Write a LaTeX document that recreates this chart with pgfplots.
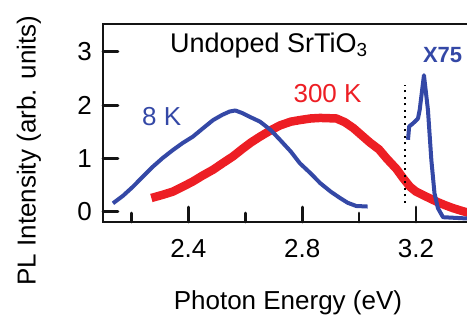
\documentclass[border=0pt]{standalone}
\usepackage{pgfplots}
\pgfplotsset{compat=1.18}
\usepackage{fontspec}
\setmainfont{Liberation Sans}
\definecolor{myblue}{RGB}{52,72,166}
\definecolor{myred}{RGB}{237,30,36}
\definecolor{myblack}{RGB}{20,20,20}
\pgfplotsset{fr/.style={myblack, line width=2.8pt, line join=round, line cap=round, forget plot}}
\begin{document}
\begin{tikzpicture}
\begin{axis}[
 scale only axis,
 width=369.9pt, height=198pt,
 xmin=2.1, xmax=3.4, ymin=-0.19, ymax=3.52,
 clip=false,
 axis line style={myblack, line width=2.5pt},
 tick align=inside, tick pos=left,
 xtick={2.4,2.8,3.2}, minor xtick={2.2,2.6,3.0},
 ytick={0,1,2,3},
 xticklabels={2.4,2.8,3.2},
 yticklabels={0,1,2,3},
 major tick length=15pt, minor tick length=9pt,
 tick style={myblack, line width=2.5pt},
 tick label style={font=\fontsize{26}{30}\selectfont},
 xticklabel style={anchor=base, inner sep=0pt, yshift=-35pt},
 yticklabel style={anchor=east, inner sep=0pt, xshift=-11pt},
 label style={font=\fontsize{26}{30}\selectfont},
 xlabel={Photon Energy (eV)},
 xlabel style={at={(axis description cs:0.5,-0.444)}, anchor=base, inner sep=0pt},
 ylabel={PL Intensity (arb. units)},
 ylabel style={at={(axis description cs:-0.2,0.36)}, anchor=center, inner sep=0pt},
]
% 300 K (red)
\addplot[myred, line width=8.5pt, line join=round] coordinates {
(2.27,0.26) (2.31,0.32) (2.346,0.38) (2.38,0.47) (2.416,0.57) (2.45,0.68)
(2.487,0.79) (2.52,0.91) (2.557,1.04) (2.59,1.18) (2.62,1.30) (2.652,1.41)
(2.69,1.53) (2.722,1.62) (2.76,1.69) (2.792,1.72) (2.83,1.75) (2.863,1.76)
(2.92,1.75) (2.95,1.68) (2.98,1.57) (3.01,1.43) (3.038,1.30) (3.07,1.17)
(3.097,1.00) (3.132,0.80) (3.155,0.63) (3.179,0.47) (3.20,0.38) (3.226,0.31)
(3.25,0.25) (3.273,0.19) (3.30,0.13) (3.33,0.07) (3.36,0.02) (3.40,-0.04)
};
% 8 K (blue)
\addplot[myblue, line width=4pt, line join=round] coordinates {
(2.135,0.16) (2.17,0.30) (2.205,0.47) (2.24,0.66) (2.276,0.85) (2.31,1.01)
(2.346,1.16) (2.38,1.29) (2.416,1.41) (2.45,1.56) (2.487,1.72) (2.52,1.82)
(2.545,1.88) (2.565,1.90) (2.59,1.85) (2.62,1.77) (2.652,1.69) (2.69,1.53)
(2.722,1.35) (2.76,1.13) (2.792,0.91) (2.83,0.72) (2.863,0.54) (2.90,0.38)
(2.933,0.26) (2.96,0.17) (2.99,0.11) (3.03,0.10)
};
% X75 (blue)
\addplot[myblue, line width=4pt, line join=round] coordinates {
(3.172,1.35) (3.176,1.60) (3.19,1.66) (3.207,1.75) (3.213,1.91) (3.228,2.56)
(3.242,1.91) (3.254,0.97) (3.265,0.35) (3.277,0.07) (3.295,-0.10) (3.40,-0.13)
};
% dotted line
\addplot[black, line width=2pt, dash pattern=on 2pt off 4.5pt] coordinates {(3.163,0.17) (3.163,2.37)};
% frame (left, bottom, top) and ticks
\addplot[fr] coordinates {(3.45,3.52) (2.1,3.52) (2.1,-0.19) (3.45,-0.19)};
\addplot[fr] coordinates {(2.4,-0.19) (2.4,0.091)};
\addplot[fr] coordinates {(2.8,-0.19) (2.8,0.091)};
\addplot[fr] coordinates {(3.2,-0.19) (3.2,0.091)};
\addplot[fr] coordinates {(2.2,-0.19) (2.2,-0.021)};
\addplot[fr] coordinates {(2.6,-0.19) (2.6,-0.021)};
\addplot[fr] coordinates {(3.0,-0.19) (3.0,-0.021)};
\addplot[fr] coordinates {(2.1,0) (2.1527,0)};
\addplot[fr] coordinates {(2.1,1) (2.1527,1)};
\addplot[fr] coordinates {(2.1,2) (2.1527,2)};
\addplot[fr] coordinates {(2.1,3) (2.1527,3)};
\node[anchor=base west, inner sep=0pt, font=\fontsize{27}{30}\selectfont] at (axis cs:2.335,2.99) {Undoped SrTiO\textsubscript{3}};
\node[anchor=base west, inner sep=0pt, font=\fontsize{26}{30}\selectfont, text=myblue] at (axis cs:2.237,1.627) {8 K};
\node[anchor=base west, inner sep=0pt, font=\fontsize{26}{30}\selectfont, text=myred] at (axis cs:2.769,2.058) {300 K};
\node[anchor=base west, inner sep=0pt, font=\bfseries\fontsize{22}{26}\selectfont, text=myblue] at (axis cs:3.224,2.795) {X75};
\end{axis}
\pgfresetboundingbox
\useasboundingbox (-103pt,-103pt) rectangle (364pt,222pt);
\end{tikzpicture}
\end{document}
